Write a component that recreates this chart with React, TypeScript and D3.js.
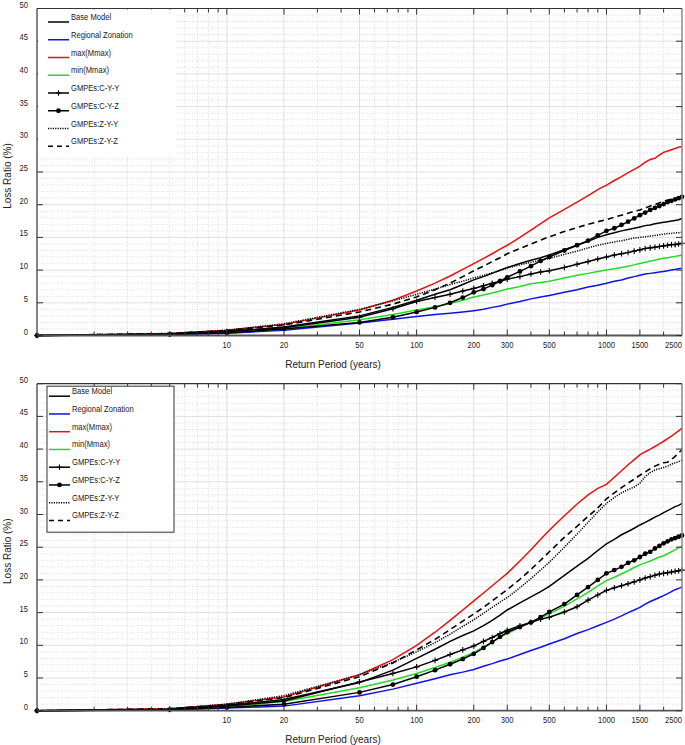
import React from 'react';
import * as d3 from 'd3';

const returnPeriods = [1, 5, 10, 20, 50, 75, 100, 125, 150, 175, 200, 225, 250, 275, 300, 350, 400, 450, 500, 600, 700, 800, 900, 1000, 1100, 1200, 1300, 1400, 1500, 1600, 1700, 1800, 1900, 2000, 2100, 2200, 2300, 2400, 2500];

const seriesNames = ['Base Model', 'Regional Zonation', 'max(Mmax)', 'min(Mmax)', 'GMPEs:C-Y-Y', 'GMPEs:C-Y-Z', 'GMPEs:Z-Y-Y', 'GMPEs:Z-Y-Z'];

// ---- Top panel ----
const topBase = [0, 0.2, 0.6, 1.3, 3.0, 4.3, 5.4, 6.3, 7.0, 7.8, 8.5, 9.0, 9.5, 10.0, 10.4, 11.0, 11.5, 11.9, 12.3, 13.1, 13.8, 14.4, 15.0, 15.4, 15.7, 16.0, 16.2, 16.4, 16.6, 16.8, 16.9, 17.1, 17.2, 17.3, 17.4, 17.5, 17.6, 17.7, 17.9];
const topRegional = [0, 0.1, 0.35, 0.8, 1.9, 2.5, 2.9, 3.2, 3.4, 3.6, 3.8, 4.0, 4.3, 4.5, 4.8, 5.2, 5.6, 5.9, 6.1, 6.6, 7.0, 7.4, 7.7, 8.0, 8.3, 8.5, 8.8, 9.0, 9.2, 9.4, 9.5, 9.6, 9.7, 9.8, 9.9, 10.0, 10.1, 10.2, 10.3];
const topMaxMmax = [0, 0.3, 0.8, 1.7, 3.9, 5.4, 6.8, 8.0, 9.1, 10.1, 11.0, 11.8, 12.5, 13.2, 13.8, 15.0, 16.1, 17.1, 18.0, 19.3, 20.4, 21.4, 22.3, 23.0, 23.7, 24.3, 24.9, 25.4, 25.9, 26.5, 26.9, 27.1, 27.6, 28.0, 28.2, 28.4, 28.6, 28.8, 28.9];
const topMinMmax = [0, 0.15, 0.45, 1.0, 2.4, 3.2, 3.9, 4.4, 4.9, 5.4, 5.9, 6.2, 6.5, 6.8, 7.1, 7.5, 7.9, 8.1, 8.3, 8.8, 9.2, 9.5, 9.8, 10.0, 10.2, 10.4, 10.6, 10.8, 11.0, 11.2, 11.4, 11.5, 11.7, 11.8, 11.9, 12.0, 12.1, 12.2, 12.3];
const topCYY = [0, 0.2, 0.6, 1.2, 2.8, 4.1, 5.2, 5.8, 6.3, 6.8, 7.2, 7.6, 8.0, 8.3, 8.6, 9.0, 9.4, 9.7, 9.9, 10.4, 10.9, 11.3, 11.7, 12.0, 12.3, 12.5, 12.7, 12.9, 13.1, 13.3, 13.4, 13.5, 13.6, 13.7, 13.8, 13.9, 13.9, 14.0, 14.1];
const topCYZ = [0, 0.15, 0.4, 1.0, 2.0, 2.8, 3.6, 4.3, 5.0, 5.8, 6.6, 7.1, 7.7, 8.3, 8.9, 9.8, 10.6, 11.4, 12.0, 13.0, 13.8, 14.5, 15.3, 16.0, 16.4, 16.9, 17.4, 17.9, 18.4, 18.8, 19.2, 19.5, 19.8, 20.1, 20.4, 20.6, 20.8, 21.0, 21.2];
const topZYY = [0, 0.3, 0.8, 1.8, 4.0, 5.3, 6.3, 7.1, 7.8, 8.3, 8.8, 9.2, 9.6, 9.9, 10.3, 10.8, 11.2, 11.5, 11.8, 12.4, 12.9, 13.4, 13.8, 14.1, 14.3, 14.5, 14.7, 14.9, 15.0, 15.1, 15.2, 15.3, 15.4, 15.5, 15.6, 15.6, 15.7, 15.7, 15.8];
const topZYZ = [0, 0.3, 0.75, 1.6, 3.6, 4.8, 5.9, 7.0, 8.0, 9.0, 9.9, 10.6, 11.3, 11.9, 12.5, 13.3, 14.0, 14.6, 15.1, 15.9, 16.5, 17.0, 17.4, 17.7, 18.1, 18.4, 18.7, 19.0, 19.2, 19.5, 19.8, 20.0, 20.3, 20.5, 20.7, 20.8, 20.9, 21.0, 21.1];

// ---- Bottom panel ----
const botBase = [0, 0.2, 0.8, 1.7, 4.3, 6.2, 8.0, 9.4, 10.6, 11.5, 12.2, 13.0, 13.8, 14.6, 15.4, 16.5, 17.4, 18.2, 19.0, 20.7, 22.1, 23.3, 24.5, 25.5, 26.2, 26.9, 27.4, 27.9, 28.4, 28.8, 29.2, 29.6, 29.9, 30.3, 30.6, 30.9, 31.2, 31.4, 31.7];
const botRegional = [0, 0.1, 0.4, 0.7, 2.3, 3.3, 4.2, 4.9, 5.5, 5.9, 6.3, 6.8, 7.2, 7.6, 7.9, 8.6, 9.2, 9.7, 10.2, 11.0, 11.8, 12.4, 13.0, 13.5, 14.0, 14.5, 15.0, 15.4, 15.8, 16.3, 16.7, 17.0, 17.3, 17.6, 17.9, 18.2, 18.5, 18.7, 18.9];
const botMaxMmax = [0, 0.3, 1.0, 2.1, 5.5, 7.8, 10.0, 12.0, 13.8, 15.4, 16.8, 18.0, 19.1, 20.1, 21.0, 22.9, 24.6, 26.2, 27.6, 29.8, 31.6, 33.0, 34.0, 34.6, 35.7, 36.7, 37.6, 38.4, 39.1, 39.6, 40.0, 40.4, 40.8, 41.2, 41.6, 42.0, 42.4, 42.8, 43.2];
const botMinMmax = [0, 0.2, 0.6, 1.4, 3.5, 4.7, 5.7, 6.6, 7.4, 8.2, 8.9, 9.7, 10.5, 11.2, 11.8, 12.8, 13.5, 14.2, 14.8, 16.0, 17.1, 18.1, 19.1, 19.9, 20.4, 20.9, 21.4, 21.9, 22.3, 22.6, 22.9, 23.2, 23.5, 23.7, 24.0, 24.3, 24.6, 24.9, 25.1];
const botCYY = [0, 0.2, 0.7, 1.5, 4.4, 5.7, 6.7, 7.7, 8.6, 9.3, 9.9, 10.6, 11.2, 11.8, 12.3, 13.0, 13.5, 14.0, 14.3, 15.1, 15.9, 16.9, 17.7, 18.4, 18.8, 19.1, 19.4, 19.7, 20.0, 20.3, 20.5, 20.7, 20.9, 21.0, 21.1, 21.2, 21.3, 21.4, 21.5];
const botCYZ = [0, 0.15, 0.5, 1.0, 2.8, 4.0, 5.2, 6.2, 7.1, 7.9, 8.7, 9.6, 10.5, 11.3, 12.0, 12.8, 13.5, 14.3, 15.1, 16.3, 17.7, 18.9, 20.0, 21.0, 21.5, 22.0, 22.6, 23.0, 23.5, 24.0, 24.3, 24.8, 25.2, 25.6, 25.9, 26.2, 26.4, 26.6, 26.8];
const botZYY = [0, 0.3, 1.0, 2.3, 5.5, 7.4, 9.0, 10.4, 11.7, 12.9, 13.9, 14.9, 15.8, 16.6, 17.3, 18.8, 20.2, 21.5, 22.7, 25.0, 27.0, 28.8, 30.4, 31.7, 32.6, 33.3, 33.8, 34.2, 34.8, 35.8, 36.4, 36.8, 37.0, 37.2, 37.4, 37.7, 37.9, 38.1, 38.3];
const botZYZ = [0, 0.3, 0.9, 2.0, 5.2, 7.3, 9.3, 10.9, 12.4, 13.7, 14.8, 15.8, 16.8, 17.7, 18.5, 20.1, 21.6, 23.0, 24.3, 26.5, 28.2, 29.7, 31.0, 32.4, 33.3, 34.1, 34.8, 35.4, 36.0, 36.5, 37.0, 37.4, 37.7, 37.9, 38.0, 38.4, 38.9, 39.4, 39.9];

const xTickLabels = [10, 20, 50, 100, 200, 300, 500, 1000, 1500, 2500];
const xMinorTicks = [2, 3, 4, 5, 6, 7, 8, 9, 10, 20, 30, 40, 50, 60, 70, 80, 90, 100, 200, 300, 400, 500, 600, 700, 800, 900, 1000, 1500, 2000];
const yTicks = [0, 5, 10, 15, 20, 25, 30, 35, 40, 45, 50];
const yGridMinor = d3.range(1, 50);

type Style = { color: string; width: number; dash?: string; marker?: 'plus' | 'dot' };
const styles: Style[] = [
  { color: '#000000', width: 1.5 },
  { color: '#1010ee', width: 1.5 },
  { color: '#ee1010', width: 1.5 },
  { color: '#22dd22', width: 1.5 },
  { color: '#000000', width: 1.5, marker: 'plus' },
  { color: '#000000', width: 1.5, marker: 'dot' },
  { color: '#000000', width: 1.5, dash: '1.2,1.2' },
  { color: '#000000', width: 1.6, dash: '6,4' },
];
const drawOrder = [1, 3, 2, 0, 6, 7, 4, 5];

const FONT = '"Liberation Sans", Arial, sans-serif';
const SQUEEZE = 0.8;

const X0 = 37, X1 = 682;

function NText({ x, y, anchor, size, children }: { x: number; y: number; anchor?: string; size: number; children: React.ReactNode }) {
  return (
    <text transform={`translate(${x},${y}) scale(${SQUEEZE},1)`} textAnchor={anchor || 'start'} fontFamily={FONT} fontSize={size} fill="#1a1a1a">
      {children}
    </text>
  );
}

function Panel({ top, bottom, data, legendBox }: { top: number; bottom: number; data: number[][]; legendBox: boolean }) {
  const x = d3.scaleLog().domain([1, 2500]).range([X0, X1]);
  const y = d3.scaleLinear().domain([0, 50]).range([bottom, top]);
  const line = d3.line<[number, number]>().x(d => x(d[0])).y(d => y(d[1]));
  const lx = legendBox ? 49 : 48;
  const ly0 = legendBox ? top + 12.5 : top + 13.5;
  const lstep = 17.75;
  return (
    <g>
      <rect x={X0} y={top} width={X1 - X0} height={bottom - top} fill="#fff" />
      {yGridMinor.filter(v => v % 5 !== 0).map(v => (
        <line key={'ym' + v} x1={X0} x2={X1} y1={y(v)} y2={y(v)} stroke="#cfcfcf" strokeWidth={0.7} strokeDasharray="1,1.5" />
      ))}
      {yTicks.slice(1, -1).map(v => (
        <line key={'yg' + v} x1={X0} x2={X1} y1={y(v)} y2={y(v)} stroke="#e0e0e0" strokeWidth={1} />
      ))}
      {xMinorTicks.filter(v => !xTickLabels.includes(v)).map(v => (
        <line key={'xm' + v} x1={x(v)} x2={x(v)} y1={top} y2={bottom} stroke="#cfcfcf" strokeWidth={0.7} strokeDasharray="1,1.5" />
      ))}
      {xTickLabels.filter(v => v < 2500).map(v => (
        <line key={'xg' + v} x1={x(v)} x2={x(v)} y1={top} y2={bottom} stroke="#e0e0e0" strokeWidth={1} />
      ))}
      {drawOrder.map(i => {
        const pts = d3.zip(returnPeriods, data[i]) as [number, number][];
        const s = styles[i];
        return (
          <g key={'s' + i}>
            <path d={line(pts) || ''} fill="none" stroke={s.color} strokeWidth={s.width} strokeDasharray={s.dash} />
            {s.marker === 'dot' && pts.map((p, k) => <circle key={k} cx={x(p[0])} cy={y(p[1])} r={2.4} fill="#000" />)}
            {s.marker === 'plus' && pts.map((p, k) => (
              <path key={k} d={`M${x(p[0]) - 2.8},${y(p[1])}h5.6M${x(p[0])},${y(p[1]) - 2.8}v5.6`} stroke="#000" strokeWidth={1.1} />
            ))}
          </g>
        );
      })}
      {/* frame */}
      <line x1={X0} x2={X1} y1={top} y2={top} stroke="#333" strokeWidth={1.2} />
      <line x1={X1} x2={X1} y1={top} y2={bottom} stroke="#888" strokeWidth={1.5} />
      <line x1={X0} x2={X0} y1={top} y2={bottom} stroke="#333" strokeWidth={1.2} />
      <line x1={X0} x2={X1} y1={bottom} y2={bottom} stroke="#555" strokeWidth={1.8} />
      {yTicks.map(v => (
        <g key={'yt' + v}>
          <line x1={X0} x2={X0 + 6} y1={y(v)} y2={y(v)} stroke="#333" strokeWidth={1} />
          <line x1={X1 - 6} x2={X1} y1={y(v)} y2={y(v)} stroke="#333" strokeWidth={1} />
          <NText x={28} y={y(v) - 1} anchor="end" size={9.5}>{v}</NText>
        </g>
      ))}
      {xMinorTicks.map(v => {
        const big = xTickLabels.includes(v);
        const len = big ? 6 : 4;
        return (
          <g key={'xt' + v}>
            <line x1={x(v)} x2={x(v)} y1={bottom} y2={bottom - len} stroke="#333" strokeWidth={1} />
            <line x1={x(v)} x2={x(v)} y1={top} y2={top + len} stroke="#333" strokeWidth={1} />
          </g>
        );
      })}
      {xTickLabels.map(v => (
        <NText key={'xl' + v} x={v === 2500 ? X1 : x(v)} y={bottom + 12.5} anchor={v === 2500 ? 'end' : 'middle'} size={9.5}>{v}</NText>
      ))}
      <text x={333} y={bottom + 32} textAnchor="middle" fontFamily={FONT} fontSize={10} fill="#222">Return Period (years)</text>
      <text transform={`translate(11,${(top + bottom) / 2 + 4}) rotate(-90)`} textAnchor="middle" fontFamily={FONT} fontSize={10} fill="#222">Loss Ratio (%)</text>
      {/* legend */}
      {legendBox ? (
        <rect x={47} y={top + 2.5} width={127} height={146} fill="#fff" stroke="#333" strokeWidth={1} />
      ) : (
        <rect x={X0 + 1} y={top + 1} width={138} height={147} fill="#fff" />
      )}
      {seriesNames.map((name, i) => {
        const s = styles[i];
        const ly = ly0 + i * lstep;
        return (
          <g key={'lg' + i}>
            <line x1={lx} x2={lx + 21} y1={ly} y2={ly} stroke={s.color} strokeWidth={s.width} strokeDasharray={s.dash === '6,4' ? '5,4' : s.dash} />
            {s.marker === 'dot' && <circle cx={lx + 10.5} cy={ly} r={2.4} fill="#000" />}
            {s.marker === 'plus' && <path d={`M${lx + 7.7},${ly}h5.6M${lx + 10.5},${ly - 2.8}v5.6`} stroke="#000" strokeWidth={1.1} />}
            <NText x={lx + 23} y={ly - 2} size={9.5}>{name}</NText>
          </g>
        );
      })}
    </g>
  );
}

export default function App() {
  const topData = [topBase, topRegional, topMaxMmax, topMinMmax, topCYY, topCYZ, topZYY, topZYZ];
  const botData = [botBase, botRegional, botMaxMmax, botMinMmax, botCYY, botCYZ, botZYY, botZYZ];
  return (
    <svg width={685} height={745} style={{ position: 'absolute', left: 0, top: 0, background: '#fff' }}>
      <rect width={685} height={745} fill="#fff" />
      <Panel top={8.5} bottom={335.5} data={topData} legendBox={false} />
      <Panel top={383.7} bottom={710.7} data={botData} legendBox={true} />
    </svg>
  );
}
